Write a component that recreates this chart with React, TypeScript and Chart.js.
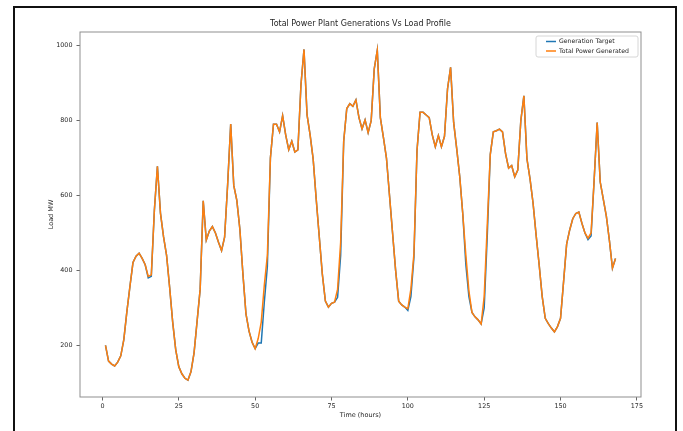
import { useEffect, useRef } from "react";
import { Chart, registerables } from "chart.js";

Chart.register(...registerables);

const hours: number[] = Array.from({ length: 168 }, (_, i) => i + 1);

const generationTarget: number[] = [
  200, 158, 150, 145, 155, 172, 215, 290, 357, 421,
  438, 446, 432, 415, 380, 384, 560, 678, 553, 490,
  440, 355, 262, 188, 143, 124, 112, 107, 130, 180,
  265, 350, 586, 481, 505, 517, 500, 475, 453, 489,
  630, 791, 627, 587, 510, 390, 284, 238, 208, 191,
  206, 206, 315, 410, 700, 790, 790, 770, 813, 762,
  722, 745, 716, 722, 895, 990, 815, 762, 697, 590,
  490, 390, 318, 302, 312, 315, 328, 440, 745, 832,
  845, 838, 855, 808, 778, 802, 768, 800, 938, 988,
  808, 755, 700, 600, 500, 400, 318, 308, 302, 293,
  330, 435, 720, 822, 822, 815, 808, 762, 730, 760,
  730, 758, 885, 942, 795, 725, 650, 550, 415, 330,
  288, 276, 268, 257, 300, 490, 710, 770, 773, 777,
  770, 712, 673, 680, 650, 668, 800, 866, 698, 645,
  580, 495, 415, 330, 272, 258, 246, 236, 250, 272,
  370, 470, 508, 538, 552, 556, 526, 500, 482, 492,
  640, 795, 636, 590, 545, 480, 406, 432,
];

const totalPowerGenerated: number[] = [
  200, 158, 150, 145, 155, 172, 215, 290, 357, 421,
  438, 446, 432, 415, 384, 388, 560, 678, 553, 490,
  440, 355, 262, 188, 143, 124, 112, 107, 130, 180,
  265, 350, 586, 481, 505, 517, 500, 475, 453, 489,
  630, 791, 627, 587, 510, 390, 284, 238, 208, 191,
  218, 262, 360, 440, 700, 790, 790, 770, 813, 762,
  722, 745, 716, 722, 895, 990, 815, 762, 697, 590,
  490, 390, 318, 302, 312, 315, 350, 475, 745, 832,
  845, 838, 855, 808, 778, 802, 768, 800, 938, 988,
  808, 755, 700, 600, 500, 400, 318, 308, 302, 298,
  350, 445, 720, 822, 822, 815, 808, 762, 730, 760,
  730, 758, 885, 942, 795, 725, 650, 550, 440, 345,
  288, 276, 268, 257, 330, 520, 710, 770, 773, 777,
  770, 712, 673, 680, 650, 668, 800, 866, 698, 645,
  580, 495, 415, 330, 272, 258, 246, 236, 250, 272,
  370, 470, 508, 538, 552, 556, 526, 500, 486, 500,
  640, 795, 636, 590, 545, 480, 406, 432,
];

const xTicks: number[] = [0, 25, 50, 75, 100, 125, 150, 175];
const yTicks: number[] = [200, 400, 600, 800, 1000];
const seriesNames: string[] = ["Generation Target", "Total Power Generated"];
const seriesColors: string[] = ["#1f77b4", "#ff7f0e"];
const titleText = "Total Power Plant Generations Vs Load Profile";
const xLabel = "Time (hours)";
const yLabel = "Load MW";

const FONT = "'DejaVu Sans', 'Liberation Sans', sans-serif";
const TEXT = "#262626";
const SPINE = "#8f8f8f";

export default function App() {
  const ref = useRef<HTMLCanvasElement | null>(null);

  useEffect(() => {
    if (!ref.current) return;

    const decor = {
      id: "decor",
      afterDraw(chart: any) {
        const { ctx, chartArea } = chart;
        const { left, right, top, bottom } = chartArea;
        ctx.save();
        // spines
        ctx.strokeStyle = SPINE;
        ctx.lineWidth = 1;
        ctx.strokeRect(left, top, right - left, bottom - top);
        // title
        ctx.fillStyle = TEXT;
        ctx.font = `8px ${FONT}`;
        ctx.textAlign = "center";
        ctx.textBaseline = "middle";
        ctx.fillText(titleText, (left + right) / 2, 24);
        // legend
        const bw = 102;
        const bh = 21;
        const bx = right - 3 - bw;
        const by = top + 4;
        ctx.beginPath();
        const r = 2;
        ctx.moveTo(bx + r, by);
        ctx.lineTo(bx + bw - r, by);
        ctx.quadraticCurveTo(bx + bw, by, bx + bw, by + r);
        ctx.lineTo(bx + bw, by + bh - r);
        ctx.quadraticCurveTo(bx + bw, by + bh, bx + bw - r, by + bh);
        ctx.lineTo(bx + r, by + bh);
        ctx.quadraticCurveTo(bx, by + bh, bx, by + bh - r);
        ctx.lineTo(bx, by + r);
        ctx.quadraticCurveTo(bx, by, bx + r, by);
        ctx.closePath();
        ctx.fillStyle = "rgba(255,255,255,0.85)";
        ctx.fill();
        ctx.strokeStyle = "#d6d6d6";
        ctx.lineWidth = 1;
        ctx.stroke();
        ctx.font = `6.2px ${FONT}`;
        ctx.textAlign = "left";
        ctx.textBaseline = "middle";
        seriesNames.forEach((name, i) => {
          const yy = by + 5.5 + i * 9.5;
          ctx.strokeStyle = seriesColors[i];
          ctx.lineWidth = 1.5;
          ctx.beginPath();
          ctx.moveTo(bx + 10, yy);
          ctx.lineTo(bx + 20, yy);
          ctx.stroke();
          ctx.fillStyle = TEXT;
          ctx.fillText(name, bx + 23, yy);
        });
        ctx.restore();
      },
    };

    const chart = new Chart(ref.current, {
      type: "line",
      data: {
        datasets: [
          {
            label: seriesNames[0],
            data: hours.map((h, i) => ({ x: h, y: generationTarget[i] })),
            borderColor: seriesColors[0],
            backgroundColor: seriesColors[0],
            borderWidth: 1.5,
            pointRadius: 0,
            tension: 0,
            fill: false,
            order: 1,
          },
          {
            label: seriesNames[1],
            data: hours.map((h, i) => ({ x: h, y: totalPowerGenerated[i] })),
            borderColor: seriesColors[1],
            backgroundColor: seriesColors[1],
            borderWidth: 1.5,
            pointRadius: 0,
            tension: 0,
            fill: false,
            order: 0,
          },
        ],
      },
      options: {
        responsive: false,
        animation: false,
        layout: { padding: { left: 0, right: 42, top: 32, bottom: 0 } },
        plugins: {
          legend: { display: false },
          title: { display: false },
          tooltip: { enabled: false },
        },
        scales: {
          x: {
            type: "linear",
            min: -7.35,
            max: 176.35,
            afterBuildTicks: (axis: any) => {
              axis.ticks = xTicks.map((v) => ({ value: v }));
            },
            afterFit: (s: any) => {
              s.height = 34;
            },
            grid: {
              display: true,
              drawOnChartArea: false,
              drawTicks: true,
              tickLength: 3.5,
              color: "#666",
            },
            border: { display: false },
            ticks: {
              font: { family: FONT, size: 6.4 },
              color: TEXT,
              padding: 2.5,
              maxRotation: 0,
              autoSkip: false,
              callback: (v: any) => String(v),
            },
            title: {
              display: true,
              text: xLabel,
              font: { family: FONT, size: 6.5 },
              color: TEXT,
              padding: { top: 0, bottom: 12 },
            },
          },
          y: {
            type: "linear",
            min: 62,
            max: 1036.5,
            afterBuildTicks: (axis: any) => {
              axis.ticks = yTicks.map((v) => ({ value: v }));
            },
            afterFit: (s: any) => {
              s.width = 80;
            },
            grid: {
              display: true,
              drawOnChartArea: false,
              drawTicks: true,
              tickLength: 3.5,
              color: "#666",
            },
            border: { display: false },
            ticks: {
              font: { family: FONT, size: 6.4 },
              color: TEXT,
              padding: 4,
              autoSkip: false,
              callback: (v: any) => String(v),
            },
            title: {
              display: true,
              text: yLabel,
              font: { family: FONT, size: 6.5 },
              color: TEXT,
              padding: { top: 47, bottom: 0 },
            },
          },
        },
      },
      plugins: [decor],
    } as any);

    return () => chart.destroy();
  }, []);

  return (
    <div style={{ position: "fixed", left: 0, top: 0, width: 683, height: 431, background: "#fff", overflow: "hidden" }}>
      <canvas ref={ref} width={683} height={431} style={{ position: "absolute", left: 0, top: 0, width: 683, height: 431 }} />
      <div
        style={{
          position: "absolute",
          left: 13,
          top: 6,
          width: 660,
          height: 500,
          border: "2px solid #111",
          borderBottom: "none",
          pointerEvents: "none",
        }}
      />
    </div>
  );
}
